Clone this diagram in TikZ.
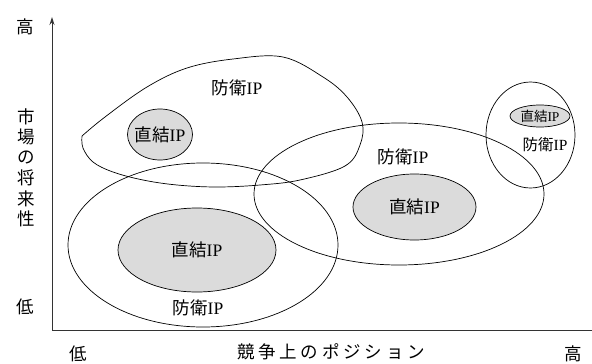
\documentclass[tikz,border=0pt]{standalone}
\usepackage{fontspec}
\setmainfont{Liberation Serif}
\newfontfamily\cjk{Noto Sans CJK JP}
\usetikzlibrary{shapes.geometric,arrows.meta}
\newcommand\jpx[1]{{\cjk #1}}
\newcommand\hb[1]{\makebox[21.3pt]{\cjk #1}}
\begin{document}
\begin{tikzpicture}[x=1pt,y=-1pt,
  outline/.style={draw=black, line width=0.7pt, ellipse, inner sep=0pt},
  core/.style={draw=black, line width=0.7pt, ellipse, inner sep=0pt, fill=gray!28},
  lbl/.style={inner sep=0pt, font=\fontsize{17.5}{19}\selectfont},
  smalllbl/.style={inner sep=0pt, font=\fontsize{13.5}{15}\selectfont},
  axis/.style={line width=0.9pt, draw=black!80},
  axlbl/.style={inner sep=0pt, font=\fontsize{17.5}{19}\selectfont\cjk}]
\useasboundingbox (0,0) rectangle (592,364);
% axes
\coordinate (o) at (52,330);
\coordinate (ytop) at (52,17);
\coordinate (xend) at (592,330);
\draw[axis, -{Stealth[length=8pt,width=5pt]}] (o) -- (ytop);
\draw[axis] (o) -- (xend);
% axis labels
\node[axlbl] (yhigh) at (25,27) {高};
\node[axlbl] (ylow) at (25,307) {低};
\foreach \c [count=\i from 0] in {市,場,の,将,来,性}
  \node[axlbl] (yc\i) at (26,117+20.4*\i) {\c};
\node[axlbl] (xlow) at (78,354) {低};
\node[axlbl] (xhigh) at (573,354) {高};
\node[inner sep=0pt, font=\fontsize{17.5}{19}\selectfont] (xtitle) at (331,352) {\hb{競}\hb{争}\hb{上}\hb{の}\hb{ポ}\hb{ジ}\hb{シ}\hb{ョ}\hb{ン}};
% teardrop region
\draw[line width=0.7pt] plot[smooth, tension=0.6] coordinates {(82,136) (105,117) (147,87) (187,68) (233,59) (283,57) (323,77) (347,97) (362,122) (360,145) (345,166) (300,180) (260,185) (217,187) (177,185) (143,180) (113,172) (93,162) (83,148) (82,136)};
\node[core, minimum width=65pt, minimum height=51pt] (c1) at (160,134.5) {};
\node[lbl] (c1t) at (c1) {\jpx{直結}IP};
\node[lbl] (d1) at (237,88) {\jpx{防衛}IP};
% lower-left
\node[outline, minimum width=270pt, minimum height=164pt] (e2) at (203,245) {};
\node[core, minimum width=158pt, minimum height=84pt] (c2) at (197,250) {};
\node[lbl] (c2t) at (c2) {\jpx{直結}IP};
\node[lbl] (d2) at (198,308) {\jpx{防衛}IP};
% middle
\node[outline, minimum width=290pt, minimum height=142pt] (e3) at (399,194) {};
\node[core, minimum width=123pt, minimum height=66pt] (c3) at (414.5,207) {};
\node[lbl] (c3t) at (c3) {\jpx{直結}IP};
\node[lbl] (d3) at (403,157) {\jpx{防衛}IP};
% right
\node[outline, minimum width=89pt, minimum height=106pt] (e4) at (530.5,135) {};
\node[core, minimum width=60pt, minimum height=22pt] (c4) at (540,116) {};
\node[smalllbl] (c4t) at (c4) {\jpx{直結}IP};
\node[inner sep=0pt, font=\fontsize{15.5}{17}\selectfont] (d4) at (545,145) {\jpx{防衛}IP};
\end{tikzpicture}
\end{document}
